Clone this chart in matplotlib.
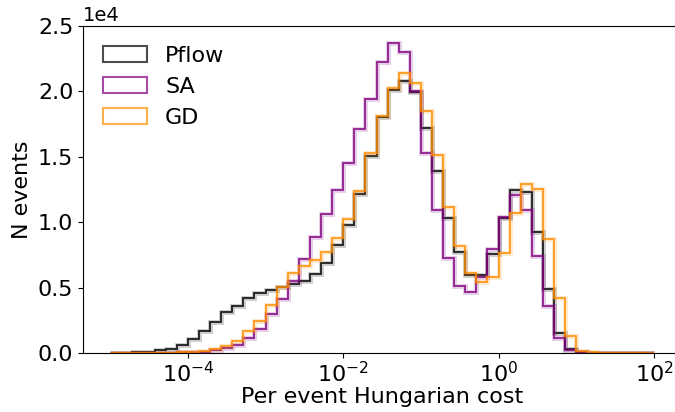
import numpy as np
import matplotlib
matplotlib.use('Agg')
import matplotlib.pyplot as plt
from matplotlib.patches import Patch


# log-spaced bins, 7 per decade, from 1e-5 to 1e2
edges = np.logspace(-5, 2, 50)

pflow = [20, 40, 60, 100, 200, 330, 590, 1050, 1680, 2390,
         3100, 3630, 4180, 4610, 4820, 5070, 5280, 5530, 6040, 6860,
         8230, 9790, 12160, 15060, 18000, 20050, 20800, 19950, 17200, 13860,
         10330, 7750, 5960, 5940, 7570, 10300, 12460, 12260, 9270, 4870,
         1550, 280, 50, 20, 10, 0, 0, 0, 0]

sa = [5, 8, 10, 15, 20, 30, 45, 70, 100, 200,
      360, 650, 1180, 1810, 2960, 4100, 5530, 7160, 8890, 10600,
      12430, 14520, 17100, 19400, 22200, 23700, 22960, 19980, 15300, 10930,
      7220, 5150, 4690, 5840, 7930, 10420, 12080, 10930, 7440, 3590,
      1120, 230, 50, 30, 20, 10, 5, 0, 0]

gd = [5, 8, 10, 15, 20, 30, 50, 100, 180, 330,
      530, 960, 1650, 2470, 3670, 5020, 6090, 6650, 7110, 7750,
      8770, 10270, 12400, 15270, 18100, 20200, 21400, 20600, 18500, 15100,
      11150, 8180, 6090, 5430, 5790, 7670, 10680, 12900, 12500, 8690,
      4230, 1330, 150, 50, 30, 20, 10, 5, 0]

labels = ['Pflow', 'SA', 'GD']
colors = ['black', 'purple', 'darkorange']

plt.rcParams['font.size'] = 16

fig = plt.figure(figsize=(6.75, 4.12), dpi=100)
ax = fig.add_axes([0.123, 0.143, 1.009 - 0.123, 0.938 - 0.143])

handles = []
for vals, lab, c in zip([pflow, sa, gd], labels, colors):
    # светлая подложка под линией
    ax.stairs(vals, edges, color=c, linewidth=3.5, alpha=0.2)
    ax.stairs(vals, edges, color=c, linewidth=1.3, alpha=0.85)
    handles.append(Patch(facecolor='none', edgecolor=c, alpha=0.7,
                         linewidth=1.5, label=lab))

ax.set_xscale('log')
ax.set_xlim(10 ** -5.35, 10 ** 2.35)
ax.set_ylim(0, 25000)
ax.set_xticks([1e-4, 1e-2, 1e0, 1e2])
ax.minorticks_off()
ax.tick_params(axis='x', pad=2)
ax.set_yticks(np.arange(0, 25001, 5000))
ax.ticklabel_format(axis='y', style='sci', scilimits=(0, 0))
ax.yaxis.get_offset_text().set_fontsize(14)

ax.set_xlabel('Per event Hungarian cost', labelpad=1)
ax.set_ylabel('N events')
ax.legend(handles=handles, loc='upper left', frameon=False,
          handlelength=2.0, handletextpad=0.8)

fig.savefig('out.png', dpi=100)
